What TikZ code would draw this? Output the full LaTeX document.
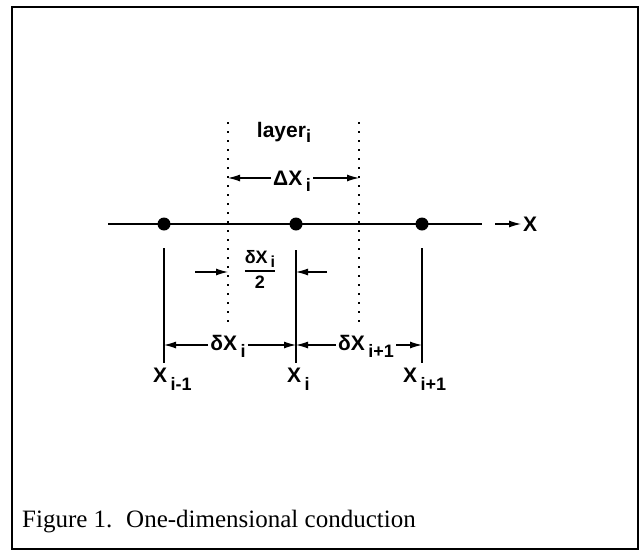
\documentclass[tikz,border=0pt]{standalone}
\usepackage{fontspec}
\setmainfont{Liberation Serif}
\setsansfont{Liberation Sans}
\usetikzlibrary{arrows.meta, positioning, calc}
\newcommand{\sbs}[2][7pt]{\,\raisebox{-#1}{\fontsize{18}{18}\selectfont #2}}

\begin{document}
\begin{tikzpicture}[x=1pt, y=-1pt,
  lbl/.style={font=\sffamily\bfseries\fontsize{21}{24}\selectfont, inner sep=2pt},
  small/.style={font=\sffamily\bfseries\fontsize{18}{20}\selectfont, inner sep=1pt},
  dot/.style={circle, fill=black, inner sep=0pt, minimum size=13pt},
  dimarr/.style={-{Latex[length=12pt,width=7pt]}, line width=1.1pt},
  bound/.style={line width=1.8pt, dash pattern=on 1.8pt off 7.2pt},
  tick/.style={line width=1.2pt},
]
\useasboundingbox (0,0) rectangle (640,552);
\draw[line width=1.8pt] (12,7) rectangle (638,549);

%% ── Axis and nodes ──────────────────────────────────────────────────────────
\coordinate (axL) at (108,224);
\coordinate (axR) at (482,224);
\draw[line width=1.5pt] (axL) -- (axR);
\node[dot] (pA) at (164,224) {};
\node[dot] (pB) at (296,224) {};
\node[dot] (pC) at (422,224) {};
\coordinate (xS) at (495,224);
\node[lbl, anchor=west] (xlab) at (521,224) {X};
\draw[dimarr] (xS) -- (xlab.west);

%% ── Layer boundaries (dotted) ───────────────────────────────────────────────
\coordinate (bLt) at (228,122); \coordinate (bLb) at (228,325);
\coordinate (bRt) at (359,122); \coordinate (bRb) at (359,325);
\draw[bound] (bLt) -- (bLb);
\draw[bound] (bRt) -- (bRb);
\node[lbl, anchor=base] (layer) at (284,137) {layer\raisebox{-5pt}{\fontsize{18}{18}\selectfont i}};

%% row heights for the dimension arrows
\coordinate (rowD) at (0,178);
\coordinate (rowH) at (0,272);
\coordinate (rowB) at (0,345);

%% ── Layer width ─────────────────────────────────────────────────────────────
\node[lbl, anchor=base] (DX) at (292,185) {ΔX\sbs[6pt]{i}};
\draw[dimarr] (DX.west |- rowD) -- (bLt |- rowD);
\draw[dimarr] (DX.east |- rowD) -- (bRt |- rowD);

%% ── Node ticks ──────────────────────────────────────────────────────────────
\coordinate (tAt) at (164,248); \coordinate (tAb) at (164,363);
\coordinate (tBt) at (296,250); \coordinate (tBb) at (296,363);
\coordinate (tCt) at (422,248); \coordinate (tCb) at (422,363);
\draw[tick] (tAt) -- (tAb);
\draw[tick] (tBt) -- (tBb);
\draw[tick] (tCt) -- (tCb);

%% ── Half spacing ────────────────────────────────────────────────────────────
\node[small] (half) at (260,272) {\setlength{\arrayrulewidth}{1.3pt}%
  \begin{tabular}{@{}c@{}}δX\sbs[4pt]{\fontsize{16}{16}\selectfont i}\\[1pt]\hline
  \rule{0pt}{17pt}2\end{tabular}};
\coordinate (hL) at (195,272);
\coordinate (hR) at (327,272);
\draw[dimarr] (hL) -- (bLt |- hL);
\draw[dimarr] (hR) -- (tBt |- hR);

%% ── Node spacings ───────────────────────────────────────────────────────────
\node[lbl, anchor=base] (dxi) at (228,350) {δX\sbs{i}};
\draw[dimarr] (dxi.west |- rowB) -- (tAb |- rowB);
\draw[dimarr] (dxi.east |- rowB) -- (tBb |- rowB);
\node[lbl, anchor=base] (dxj) at (366,350) {δX\sbs{i+1}};
\draw[dimarr] (dxj.west |- rowB) -- (tBb |- rowB);
\draw[dimarr] (dxj.east |- rowB) -- (tCb |- rowB);

%% ── Node names ──────────────────────────────────────────────────────────────
\node[lbl, anchor=base west] (xA) at (151,382) {X\sbs[8pt]{i-1}};
\node[lbl, anchor=base west] (xB) at (285,382) {X\sbs[8pt]{i}};
\node[lbl, anchor=base west] (xC) at (401,382) {X\sbs[8pt]{i+1}};

%% ── Caption ─────────────────────────────────────────────────────────────────
\node[anchor=base west, inner sep=0pt, font=\fontsize{25}{30}\selectfont]
  (cap) at (22,527) {Figure 1.\hspace{0.55em}One-dimensional conduction};

\end{tikzpicture}
\end{document}
